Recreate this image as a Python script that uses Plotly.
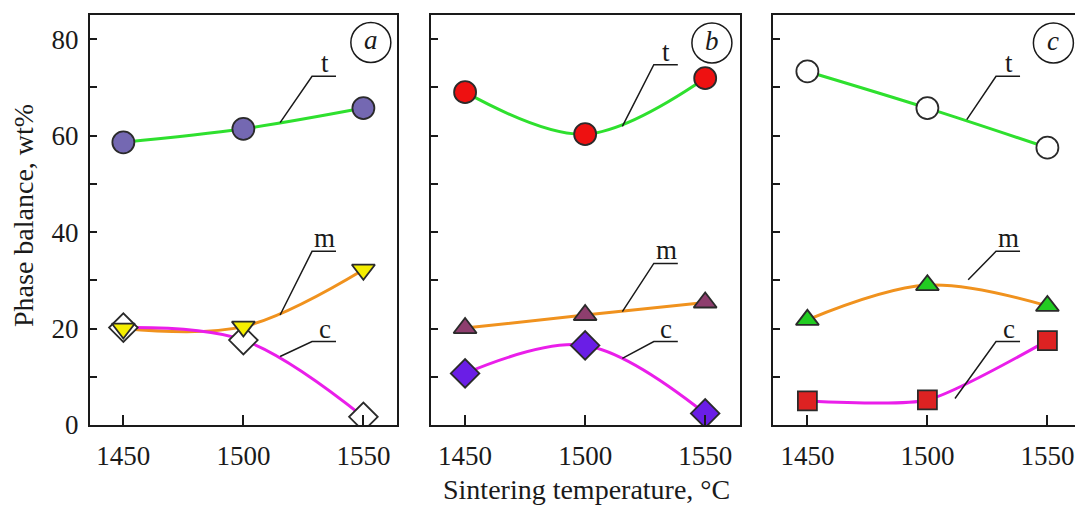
import plotly.graph_objects as go

# ---------------- data ----------------
temps = [1450, 1500, 1550]
x_ticks = [1450, 1500, 1550]
y_tick_vals = [0, 10, 20, 30, 40, 50, 60, 70, 80]
y_tick_text = ["0", "", "20", "", "40", "", "60", "", "80"]

a_t = [58.6, 61.4, 65.7]
a_m = [20.0, 20.4, 32.2]
a_c = [20.2, 17.6, 1.7]

b_t = [69.0, 60.3, 71.9]
b_m = [20.1, 22.8, 25.4]
b_c = [10.7, 16.5, 2.4]

c_t = [73.3, 65.7, 57.5]
c_m = [21.8, 29.0, 24.7]
c_c = [5.0, 5.2, 17.5]

panel_names = ["a", "b", "c"]

# ---------------- styles ----------------
FONT = "Liberation Serif"
INK = "#1a1a1a"
GREEN = "#2ee02e"
ORANGE = "#f0921e"
MAGENTA = "#ea1eea"
EDGE = "#2a2a2a"

panels = [
    dict(t=a_t, m=a_m, c=a_c,
         t_fill="#7468b2", t_sym="circle",
         m_fill="#f5ee00", m_sym="triangle-down",
         c_fill="#ffffff", c_sym="diamond", c_smooth=1.0),
    dict(t=b_t, m=b_m, c=b_c,
         t_fill="#ee1111", t_sym="circle",
         m_fill="#8e3e6e", m_sym="triangle-up",
         c_fill="#6a1ee6", c_sym="diamond", c_smooth=1.0),
    dict(t=c_t, m=c_m, c=c_c,
         t_fill="#ffffff", t_sym="circle",
         m_fill="#22cc22", m_sym="triangle-up",
         c_fill="#dd2222", c_sym="square", c_smooth=0.6),
]

W, H = 1075, 506
x_domains = [(90 / W, 397 / W), (431 / W, 740 / W), (773.3 / W, 1.0)]
y_domain = (1 - 425 / H, 1 - 15 / H)
x_ranges = [(1436.1, 1564.0), (1435.8, 1564.5), (1435.8, 1561.5)]
y_range = (0, 85)

# leader positions: (label, x_bottom, y_bottom, y_underline)
leaders = [
    [("t", 1515.3, 62.7, 72.3), ("m", 1515.3, 22.8, 36.0), ("c", 1515.3, 14.2, 17.3)],
    [("t", 1515.5, 61.9, 74.7), ("m", 1515.5, 23.5, 33.5), ("c", 1515.5, 13.8, 17.3)],
    [("t", 1516.4, 63.3, 72.3), ("m", 1517.0, 30.1, 36.0), ("c", 1511.5, 5.5, 17.3)],
]
circle_centers = [(1553.1, 79.3), (1552.8, 79.2), (1552.5, 79.2)]

fig = go.Figure()
shapes = []
annotations = []

for i, p in enumerate(panels):
    xa = "x" if i == 0 else f"x{i+1}"
    ya = "y" if i == 0 else f"y{i+1}"
    # lines first
    for key, col in (("t", GREEN), ("m", ORANGE), ("c", MAGENTA)):
        sm = p["c_smooth"] if key == "c" else 1.0
        fig.add_trace(go.Scatter(
            x=temps, y=p[key], mode="lines",
            line=dict(color=col, width=3, shape="spline", smoothing=sm),
            xaxis=xa, yaxis=ya, showlegend=False, hoverinfo="skip"))
    # markers on top
    for key, size in (("c", 22), ("m", 20), ("t", 22)):
        sym = p[key + "_sym"]
        sz = size
        if sym == "square":
            sz = 19
        fig.add_trace(go.Scatter(
            x=temps, y=p[key], mode="markers",
            marker=dict(symbol=sym, size=sz, color=p[key + "_fill"],
                        line=dict(color=EDGE, width=1.8)),
            xaxis=xa, yaxis=ya, showlegend=False))

    # leader lines with underline + label text
    for lab, xb, yb, yu in leaders[i]:
        shapes.append(dict(
            type="path", xref=xa, yref=ya,
            path=f"M {xb} {yb} L 1528.6 {yu} L 1538.6 {yu}",
            line=dict(color=INK, width=1.5)))
        annotations.append(dict(
            x=1533.8, y=yu, xref=xa, yref=ya, text=lab, showarrow=False,
            yanchor="bottom", yshift=-4,
            font=dict(family=FONT, size=27, color=INK)))

    # circled panel letter
    cx, cy = circle_centers[i]
    shapes.append(dict(
        type="circle", xref=xa, yref=ya, xsizemode="pixel", ysizemode="pixel",
        xanchor=cx, yanchor=cy, x0=-20, x1=20, y0=-20, y1=20,
        line=dict(color=INK, width=1.5)))
    annotations.append(dict(
        x=cx, y=cy, xref=xa, yref=ya, text=f"<i>{panel_names[i]}</i>",
        showarrow=False, xanchor="center", yanchor="middle", yshift=2,
        font=dict(family=FONT, size=27, color=INK)))

    axis_common = dict(showline=True, linecolor=INK, linewidth=2, mirror=True,
                       ticks="inside", tickcolor=INK, tickwidth=2,
                       showgrid=False, zeroline=False, automargin=False,
                       tickfont=dict(family=FONT, size=27, color=INK))
    xkey = "xaxis" if i == 0 else f"xaxis{i+1}"
    ykey = "yaxis" if i == 0 else f"yaxis{i+1}"
    fig.layout[xkey] = dict(axis_common, domain=list(x_domains[i]),
                            range=list(x_ranges[i]), anchor=ya,
                            tickvals=x_ticks, ticklen=10,
                            ticklabelstandoff=6)
    fig.layout[ykey] = dict(axis_common, domain=list(y_domain),
                            range=list(y_range), anchor=xa,
                            tickvals=y_tick_vals,
                            ticktext=y_tick_text if i == 0 else [""] * len(y_tick_vals),
                            ticklen=7, ticklabelstandoff=4)

# axis titles
annotations.append(dict(
    x=23 / W, y=1 - 216 / H, xref="paper", yref="paper",
    text="Phase balance, wt%", textangle=-90, showarrow=False,
    xanchor="center", yanchor="middle",
    font=dict(family=FONT, size=28, color=INK)))
annotations.append(dict(
    x=586 / W, y=1 - 489 / H, xref="paper", yref="paper",
    text="Sintering temperature, °C", showarrow=False,
    xanchor="center", yanchor="middle",
    font=dict(family=FONT, size=28, color=INK)))

fig.update_layout(
    width=W, height=H,
    margin=dict(l=0, r=0, t=0, b=0, pad=0, autoexpand=False),
    paper_bgcolor="#ffffff", plot_bgcolor="#ffffff",
    shapes=shapes, annotations=annotations,
    showlegend=False,
)

fig.write_html(
    "out.html",
    config={"displayModeBar": False},
    post_script="document.body.style.margin='0px';document.body.style.overflow='hidden';",
)
